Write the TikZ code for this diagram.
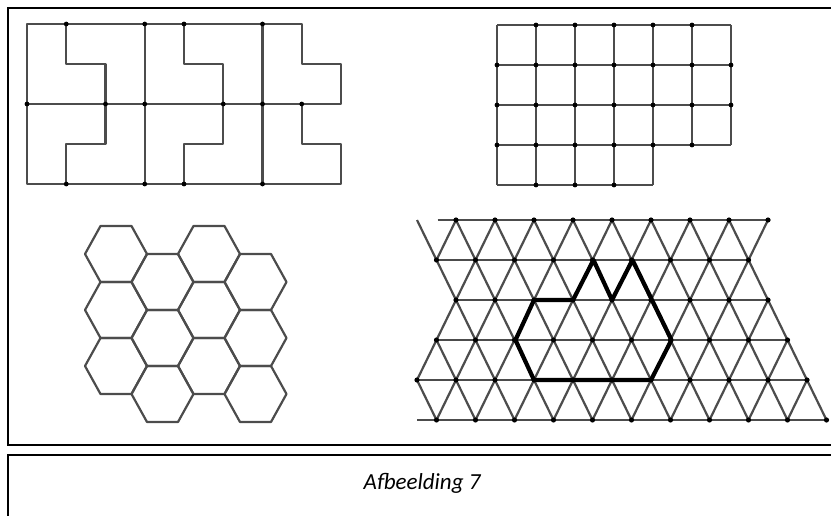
\documentclass[tikz,border=0pt]{standalone}
\usepackage{fontspec}
\setmainfont{Carlito}
\tikzset{
	lijn/.style={black!70, line width=2.2pt, line join=round},
	kader/.style={black, line width=2pt},
	knoop/.style={fill=black},
	vet/.style={black, line width=4.2pt, line join=round},
}
\begin{document}
\begin{tikzpicture}[x=1pt,y=-1pt]
	\useasboundingbox (0,0) rectangle (831,516);
	\clip (0,0) rectangle (831,516);
	
	% Kaders en bijschrift
	\draw[kader] (8,8) rectangle (845,445);
	\draw[kader] (8,455) rectangle (845,530);
	\node[font=\itshape\fontsize{23}{27}\selectfont] (bijschrift) at (422,483) {Afbeelding 7};
	
	% Betegeling met L-vormen
	\begin{scope}[shift={(27,24)},x=39.25pt,y=-40pt]
		\draw[lijn] (0,0) -- (7,0) -- (7,1) -- (8,1) -- (8,2) -- (7,2) -- (7,3) -- (8,3) -- (8,4) -- (0,4) -- cycle;
		\draw[lijn] (0,2) -- (8,2);
		\draw[lijn] (1,0) -- (1,1) -- (2,1) -- (2,3) -- (1,3) -- (1,4);
		\draw[lijn] (4,0) -- (4,1) -- (5,1) -- (5,3) -- (4,3) -- (4,4);
		\draw[lijn] (3,0) -- (3,4);
		\draw[lijn] (6,0) -- (6,4);
		\foreach \x/\y in {1/0,3/0,4/0,6/0,0/2,2/2,3/2,5/2,6/2,7/2,1/4,3/4,4/4,6/4}
			\fill[knoop] (\x,\y) circle (2.4pt);
	\end{scope}
	
	% Vierkantenrooster
	\begin{scope}[shift={(497,25)},x=39pt,y=-40pt]
		\foreach \x in {0,...,6}
			\draw[lijn] (\x,0) -- (\x,3);
		\foreach \x in {0,...,4}
			\draw[lijn] (\x,3) -- (\x,4);
		\foreach \y in {0,...,3}
			\draw[lijn] (0,\y) -- (6,\y);
		\draw[lijn] (0,4) -- (4,4);
		\foreach \x in {0,...,6}
		{
			\fill[knoop] (\x,1) circle (2.4pt);
			\fill[knoop] (\x,2) circle (2.4pt);
		}
		\foreach \x in {1,...,5}
		{
			\fill[knoop] (\x,0) circle (2.4pt);
			\fill[knoop] (\x,3) circle (2.4pt);
		}
		\foreach \x/\y in {0/3,1/4,2/4,3/4}
			\fill[knoop] (\x,\y) circle (2.4pt);
	\end{scope}
	
	% Zeshoeken
	\foreach \c/\dy in {0/0,1/28,2/0,3/28}
		\foreach \r in {0,1,2}
			\draw[lijn] ({116+46.5*\c},{254+\dy+56*\r}) +(31,0) -- +(15.5,28) -- +(-15.5,28)
				-- +(-31,0) -- +(-15.5,-28) -- +(15.5,-28) -- cycle;
	
	% Driehoekenrooster: horizontale lijnen
	\foreach \r/\xa/\xb in {0/437.5/768, 1/437.5/749.5, 2/456/768, 3/437.5/788.5, 4/417/807, 5/417/827.5}
		\draw[lijn] (\xa,{220+40*\r}) -- (\xb,{220+40*\r});
	
	% Driehoekenrooster: schuine lijnen
	\foreach \r/\o/\a/\b/\c/\d in {0/0/0/8/1/9, 1/19.5/0/8/1/8, 2/0/1/9/1/9, 3/19.5/0/9/0/9, 4/0/0/10/1/10}
	{
		\foreach \k in {\a,...,\b}
			\draw[lijn] ({417+\o+39*\k},{220+40*\r}) -- ++(19.5,40);
		\foreach \k in {\c,...,\d}
			\draw[lijn] ({417+\o+39*\k},{220+40*\r}) -- ++(-19.5,40);
	}
	
	% Knopen van het driehoekenrooster
	\foreach \r/\o/\a/\b in {0/0/1/9, 1/19.5/0/8, 2/0/1/9, 3/19.5/0/9, 4/0/0/10, 5/19.5/0/10}
		\foreach \k in {\a,...,\b}
			\fill[knoop] ({417+\o+39*\k},{220+40*\r}) circle (2.6);
	
	% Dikke veelhoek
	\draw[vet] (593.5,260) -- (612,300) -- (632.5,260) -- (671.5,340) -- (651,380)
		-- (534,380) -- (515.5,340) -- (534,300) -- (573,300) -- cycle;
\end{tikzpicture}
\end{document}
